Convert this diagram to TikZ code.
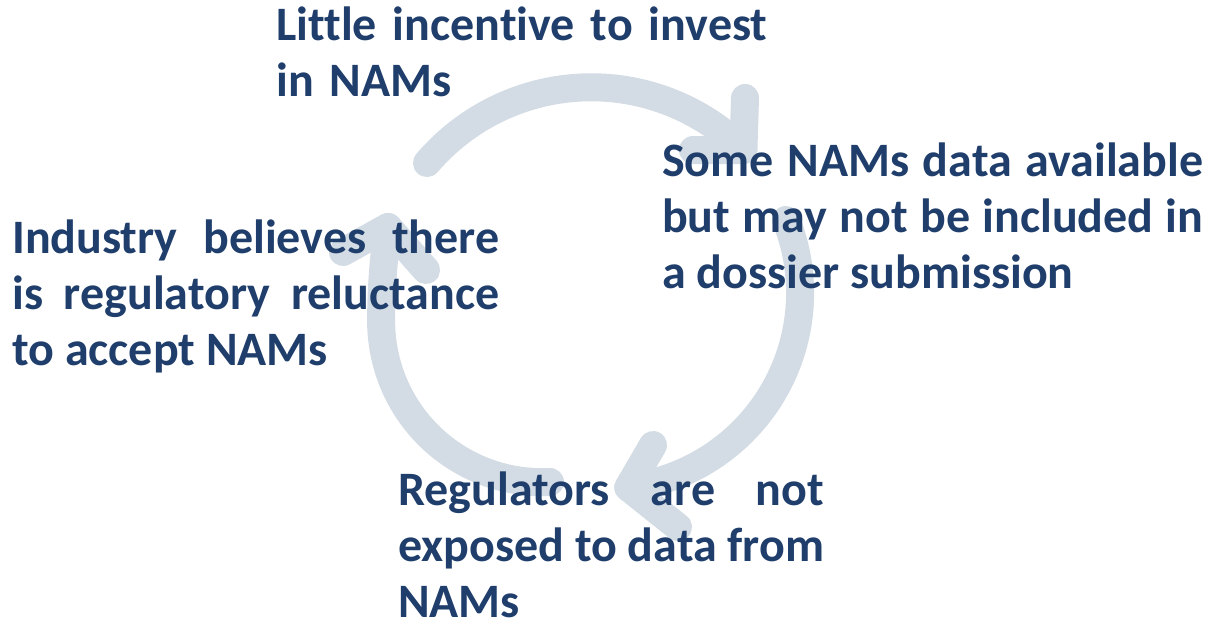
\documentclass[tikz,border=0pt]{standalone}
\usepackage{fontspec}
\setmainfont{Carlito}[Ligatures=NoCommon]
\definecolor{arcfill}{RGB}{211,220,228}
\definecolor{txt}{RGB}{31,62,107}
\begin{document}
\begin{tikzpicture}[x=1pt,y=-1pt,
  cyc/.style={line width=28pt, draw=arcfill, line cap=round, line join=round},
  lbl/.style={inner sep=0pt, anchor=base west, text=txt,
    font=\fontsize{48}{56}\selectfont\bfseries, align=justify}]
\useasboundingbox[fill=white] (0,0) rectangle (1217,634);
% arc 1 (top)
\draw[cyc] (427,163) arc[start angle=220.5, end angle=314.8, radius=216] coordinate (t1);
\coordinate (a1u) at (745,98);
\coordinate (a1l) at (693,150);
\draw[cyc] (a1u) -- (t1) -- (a1l);
% arc 2 (right)
\draw[cyc] (786,220) arc[start angle=-21.85, end angle=82.9, radius=196] coordinate (t2);
\coordinate (a2u) at (653,445);
\coordinate (a2l) at (678,527);
\draw[cyc] (a2u) -- (t2) -- (a2l);
% arc 3 (left)
\draw[cyc] (550,482) arc[start angle=87.2, end angle=180, radius=161]
  .. controls (381,290) and (384,252) .. (388,227) coordinate (t3);
\coordinate (a3l) at (343,252);
\coordinate (a3r) at (426,270);
\draw[cyc] (a3l) -- (t3) -- (a3r);
% texts
\node[lbl, text width=560pt, align=left] (little) at (276,40.5) {Little incentive to invest\\in NAMs};
\node[lbl, text width=541pt] (some) at (662,176) {Some NAMs data available\linebreak but may not be included in\linebreak a dossier submission};
\node[lbl, text width=487pt] (industry) at (12,253) {Industry believes there\linebreak is regulatory reluctance\linebreak to accept NAMs};
\node[lbl, text width=426pt] (regul) at (398,505) {Regulators are not\linebreak exposed to data from\linebreak NAMs};
\end{tikzpicture}
\end{document}
